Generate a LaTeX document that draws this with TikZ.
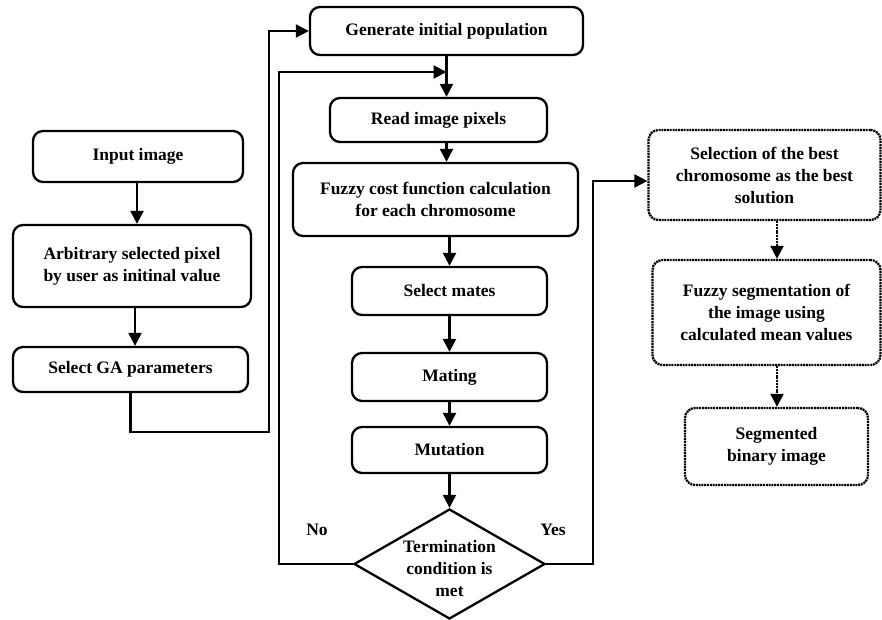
\documentclass[tikz,border=0pt]{standalone}
\usepackage{fontspec}
\setmainfont{Liberation Serif}
\usetikzlibrary{shapes.geometric,arrows.meta}
\begin{document}
\begin{tikzpicture}[x=1pt,y=-1pt,
  every node/.style={font=\bfseries\fontsize{17.5}{22}\selectfont},
  box/.style={draw,line width=2.3pt,rounded corners=10pt,align=center,inner sep=0pt},
  dbox/.style={box,dash pattern=on 2pt off 0.8pt},
  arr/.style={line width=2.3pt,-{Triangle[length=13pt,width=13pt]}},
  darr/.style={arr,dash pattern=on 2pt off 0.8pt},
  ln/.style={line width=2.3pt}]
\useasboundingbox (0,0) rectangle (882,620);
% left column
\node[box,minimum width=210,minimum height=51] (inp) at (138,156.5) {Input image};
\node[box,minimum width=238,minimum height=82] (arb) at (132,266) {Arbitrary selected pixel\\by user as initinal value};
\node[box,minimum width=235,minimum height=45] (ga) at (130.5,369.5) {Select GA parameters};
% middle column
\node[box,minimum width=273,minimum height=48] (gen) at (446.5,31) {Generate initial population};
\node[box,minimum width=217,minimum height=44] (read) at (438.5,120) {Read image pixels};
\node[box,minimum width=285,minimum height=73] (fuz) at (435.5,199.5) {Fuzzy cost function calculation\\for each chromosome};
\node[box,minimum width=195,minimum height=48] (mates) at (449.5,291) {Select mates};
\node[box,minimum width=195,minimum height=48] (mating) at (449.5,377) {Mating};
\node[box,minimum width=195,minimum height=46] (mut) at (449.5,450) {Mutation};
\node[draw,diamond,line width=2.3pt,minimum width=191,minimum height=110,inner sep=0pt] (dia) at (449.5,564) {};
\node[align=center,inner sep=0pt] (diat) at (449.5,569) {Termination\\condition is\\met};
\node (no) at (317,530) {No};
\node (yes) at (553,530) {Yes};
% right column
\node[dbox,minimum width=232,minimum height=90] (selb) at (764.5,175) {Selection of the best\\chromosome as the best\\solution};
\node[dbox,minimum width=228,minimum height=105] (segb) at (766.5,312.5) {Fuzzy segmentation of\\the image using\\calculated mean values};
\node[dbox,minimum width=183,minimum height=77] (bin) at (776.5,446.5) {Segmented\\binary image};
% coordinates
\coordinate (c1) at (269,432);
\coordinate (c2) at (279,72);
\coordinate (j) at (446.5,72);
\coordinate (c3) at (593,181);
\coordinate (vx) at (777,0);
% connectors
\draw[arr] (inp.south -| 137,0) -- (arb.north -| 137,0);
\draw[arr] (arb.south -| 135,0) -- (ga.north -| 135,0);
\draw[arr] (ga.south) |- (c1) |- (gen.west);
\draw[arr] (gen.south) -- (gen.south |- read.north);
\draw[arr] (dia.west) -| (c2) -- (j);
\draw[arr] (gen.south |- read.south) -- (gen.south |- fuz.north);
\draw[arr] (mates.north |- fuz.south) -- (mates.north);
\draw[arr] (mates.south) -- (mating.north);
\draw[arr] (mating.south) -- (mut.north);
\draw[arr] (mut.south) -- (dia.north);
\draw[arr] (dia.east) -| (c3) -- (c3 -| selb.west);
\draw[darr] (selb.south -| vx) -- (segb.north -| vx);
\draw[darr] (segb.south -| vx) -- (bin.north -| vx);
\end{tikzpicture}
\end{document}
